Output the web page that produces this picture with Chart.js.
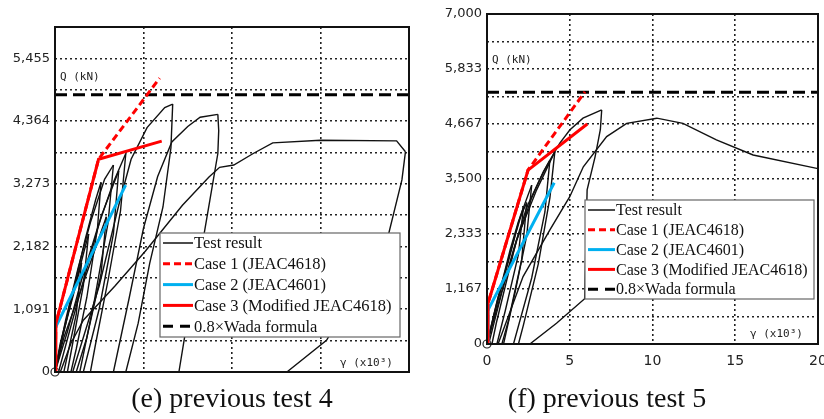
<!DOCTYPE html>
<html>
<head>
<meta charset="utf-8">
<script src="https://cdn.jsdelivr.net/npm/chart.js@4.4.0/dist/chart.umd.min.js"></script>
<style>
  body { margin: 0; background: #fff; width: 824px; height: 419px; overflow: hidden; position: relative; }
  .panel { position: absolute; top: 0; height: 385px; }
  #leftWrap { left: 0; width: 420px; }
  #rightWrap { left: 430px; width: 394px; }
  .caption { position: absolute; top: 382px; font-family: "Liberation Serif", serif; font-size: 28px; color: #111; text-align: center; }
</style>
</head>
<body>
<div class="panel" id="leftWrap"><canvas id="chartE" width="420" height="385"></canvas></div>
<div class="panel" id="rightWrap"><canvas id="chartF" width="394" height="385"></canvas></div>
<div class="caption" style="left:0;width:464px">(e) previous test 4</div>
<div class="caption" style="left:430px;width:354px">(f) previous test 5</div>
<script>
// ---- data: gamma (x10^3) vs Q (kN) ----
const legendLabels = ["Test result", "Case 1 (JEAC4618)", "Case 2 (JEAC4601)", "Case 3 (Modified JEAC4618)", "0.8\u00d7Wada formula"];

// (e) previous test 4
const e4YTicks = [0, 545, 1091, 1636, 2182, 2727, 3273, 3818, 4364, 4909, 5455, 6000];
const e4YLabels = ["0", "", "1,091", "", "2,182", "", "3,273", "", "4,364", "", "5,455", ""];
const e4Case1 = [[0, 0], [0.05, 840], [2.46, 3700], [5.91, 5110]];
const e4Case2 = [[0, 0], [0.03, 775], [3.99, 3250]];
const e4Case3 = [[0, 0], [0.05, 840], [2.46, 3700], [6.03, 4015]];
const e4Wada = 4820;
const e4Tests = [
    [[0, 0], [0.5, 700], [1.1, 1500], [1.7, 2300], [2.3, 3000], [2.6, 3300]],
    [[2.6, 3300], [2.4, 2500], [1.8, 1300], [1.2, 400], [0.9, 0]],
    [[0, 0], [0.7, 700], [1.5, 1600], [2.4, 2500], [3.3, 3300], [4.0, 3800]],
    [[4.0, 3800], [3.7, 2800], [3.0, 1600], [2.3, 500], [2.0, 0]],
    [[0.2, 0], [0.9, 800], [1.8, 1800], [2.6, 2700], [3.6, 3500]],
    [[3.6, 3500], [3.3, 2400], [2.5, 1100], [1.6, 0]],
    [[0, 0], [0.4, 600], [1.0, 1300], [1.5, 1900]],
    [[1.5, 1900], [1.2, 1000], [0.5, 0]],
    [[0, 0], [0.3, 500], [0.8, 1100], [1.3, 1700], [1.9, 2400]],
    [[1.9, 2400], [1.6, 1500], [1.0, 500], [0.7, 0]],
    [[0, 0], [0.6, 900], [1.3, 1800], [2.0, 2600], [2.8, 3350], [3.3, 3600]],
    [[3.3, 3600], [3.0, 2600], [2.2, 1200], [1.4, 0]],
    [[0, 0], [0.5, 600], [1.2, 1200], [2.0, 1900], [2.9, 2700]],
    [[2.9, 2700], [2.6, 1700], [1.8, 600], [1.2, 0]],
    [[1.0, 0], [2.5, 1500], [3.6, 2900], [4.3, 3700], [5.2, 4250], [6.2, 4600], [6.65, 4660]],
    [[6.65, 4660], [6.55, 3900], [6.1, 2870], [5.35, 1890], [4.7, 850], [4.0, 0]],
    [[3.3, 0], [4.2, 1300], [5.0, 2500], [5.8, 3400], [6.6, 4000], [7.5, 4270], [8.2, 4430], [9.2, 4480]],
    [[9.2, 4480], [9.25, 4200], [9.2, 3800], [8.75, 2990], [8.2, 2000], [7.6, 1130], [7.0, 0]],
    [[0.3, 0], [0.9, 500], [1.6, 900], [3.4, 1500], [5.1, 2100], [7.2, 2900], [8.7, 3390], [9.3, 3560],
     [10.1, 3600], [11.2, 3800], [12.3, 3985], [15.0, 4030], [19.3, 4020], [19.8, 3830]],
    [[19.8, 3830], [19.6, 3340], [18.8, 2340], [15.34, 550], [13.1, 0]]
];

// (f) previous test 5
const f5YTicks = [0, 583, 1167, 1750, 2333, 2917, 3500, 4083, 4667, 5250, 5833, 6417, 7000];
const f5YLabels = ["0", "", "1,167", "", "2,333", "", "3,500", "", "4,667", "", "5,833", "", "7,000"];
const f5Case1 = [[0, 0], [0.06, 860], [2.48, 3690], [5.92, 5350]];
const f5Case2 = [[0, 0], [0.06, 720], [4.06, 3420]];
const f5Case3 = [[0, 0], [0.06, 860], [2.48, 3690], [6.06, 4667]];
const f5Wada = 5340;
const f5Tests = [
    [[0, 0], [0.6, 900], [1.3, 1800], [2.0, 2700], [2.7, 3370]],
    [[2.7, 3370], [2.4, 2300], [1.7, 1100], [1.0, 0]],
    [[0.1, 0], [0.9, 1100], [1.8, 2200], [2.7, 3100], [3.4, 3650], [4.1, 4080]],
    [[4.1, 4080], [3.8, 3100], [3.1, 1700], [2.2, 400], [1.9, 0]],
    [[0, 0], [0.5, 700], [1.1, 1500], [1.7, 2300], [2.2, 2900]],
    [[2.2, 2900], [1.9, 1900], [1.1, 700], [0.6, 0]],
    [[0, 0], [0.4, 600], [0.9, 1300], [1.4, 2000], [1.9, 2600], [2.4, 3000]],
    [[2.4, 3000], [2.1, 1800], [1.3, 500], [0.9, 0]],
    [[0, 0], [0.8, 1000], [1.6, 2000], [2.4, 2900], [3.2, 3500], [3.8, 3900]],
    [[3.8, 3900], [3.5, 2800], [2.7, 1400], [1.6, 0]],
    [[0.3, 0], [0.56, 440], [1.78, 2200], [3.0, 3270], [4.1, 4080], [4.4, 4260], [5.0, 4540], [5.8, 4790], [6.93, 4964]],
    [[6.93, 4964], [6.85, 4550], [6.73, 4330], [6.53, 3970], [6.05, 3270], [5.9, 960], [4.2, 440], [2.59, 0]],
    [[0.67, 0], [2.18, 1430], [3.8, 2420], [5.0, 3125], [5.82, 3760], [7.23, 4400], [8.44, 4680], [10.26, 4790],
     [11.84, 4680], [13.86, 4330], [16.08, 4010], [20, 3720]]
];

const legendStyles = [
    { color: "#111", width: 1.5, dash: [] },
    { color: "#ff0000", width: 3, dash: [7, 4] },
    { color: "#00b0f0", width: 3, dash: [] },
    { color: "#ff0000", width: 3, dash: [] },
    { color: "#000", width: 3, dash: [10, 7] }
];

const toPts = arr => arr.map(([x, y]) => ({ x, y }));

// frame, axis captions and the boxed legend
const decorPlugin = {
    id: "decor",
    afterDatasetsDraw(chart, args, opts) {
        const { ctx, chartArea: a } = chart;
        ctx.save();
        ctx.setLineDash([]);
        ctx.strokeStyle = "#111";
        ctx.lineWidth = 2;
        ctx.strokeRect(a.left, a.top, a.right - a.left, a.bottom - a.top);

        ctx.fillStyle = "#222";
        ctx.font = '11px "DejaVu Sans Mono"';
        ctx.textBaseline = "middle";
        ctx.fillText("Q (kN)", a.left + opts.q[0], a.top + opts.q[1]);
        ctx.fillText("\u03b3 (x10\u00b3)", a.left + opts.g[0], a.top + opts.g[1]);

        const L = opts.legend;
        ctx.fillStyle = "#fff";
        ctx.fillRect(L.x, L.y, L.w, L.h);
        ctx.strokeStyle = "#666";
        ctx.lineWidth = 1.2;
        ctx.strokeRect(L.x, L.y, L.w, L.h);
        ctx.font = L.size + 'px "Liberation Serif"';
        legendLabels.forEach((t, i) => {
            const yy = L.y + L.first + i * L.row;
            const s = legendStyles[i];
            ctx.strokeStyle = s.color;
            ctx.lineWidth = s.width;
            ctx.setLineDash(s.dash);
            ctx.beginPath();
            ctx.moveTo(L.x + 3, yy);
            ctx.lineTo(L.x + 3 + L.sample, yy);
            ctx.stroke();
            ctx.fillStyle = "#111";
            ctx.fillText(t, L.x + 4 + L.sample, yy + 1);
        });
        ctx.restore();
    }
};

function makeChart(id, d) {
    const datasets = [
        { data: toPts(d.case3), borderColor: "#ff0000", borderWidth: 3 },
        { data: toPts(d.case2), borderColor: "#00b0f0", borderWidth: 3 },
        { data: toPts(d.case1), borderColor: "#ff0000", borderWidth: 3, borderDash: [7, 4] },
        { data: [{ x: 0, y: d.wada }, { x: 20, y: d.wada }], borderColor: "#000", borderWidth: 3, borderDash: [12, 6] },
        { data: [{ x: 0, y: 0 }], showLine: false, pointRadius: 4, pointBackgroundColor: "#fff",
          pointBorderColor: "#222", pointBorderWidth: 1.2, clip: false }
    ];
    d.tests.forEach(t => datasets.push({ data: toPts(t), borderColor: "#111", borderWidth: 1.4 }));
    datasets.forEach(ds => {
        ds.showLine = ds.showLine !== false;
        if (ds.pointRadius === undefined) ds.pointRadius = 0;
        ds.tension = 0;
    });

    return new Chart(document.getElementById(id), {
        type: "scatter",
        data: { datasets },
        options: {
            responsive: false,
            animation: false,
            events: [],
            layout: { padding: d.padding },
            plugins: { legend: { display: false }, tooltip: { enabled: false }, decor: d.decor },
            scales: {
                x: {
                    type: "linear", min: 0, max: 20,
                    afterFit: s => { s.height = d.xHeight; s.paddingLeft = 0; s.paddingRight = 0; },
                    grid: { color: "#222", lineWidth: 1.6, drawTicks: false },
                    border: { display: false, dash: [2, 3] },
                    ticks: { display: d.xLabels, stepSize: 5, padding: 9, color: "#222",
                             font: { family: "DejaVu Sans", size: 14 } }
                },
                y: {
                    type: "linear", min: 0, max: d.yTicks[d.yTicks.length - 1],
                    afterFit: s => { s.width = d.yWidth; s.paddingTop = 0; s.paddingBottom = 0; },
                    afterBuildTicks: s => { s.ticks = d.yTicks.map(v => ({ value: v })); },
                    grid: { color: "#222", lineWidth: 1.6, drawTicks: false },
                    border: { display: false, dash: [2, 3] },
                    ticks: { autoSkip: false, padding: 5, color: "#222",
                             font: { family: "DejaVu Sans", size: 13 },
                             callback: (v, i) => d.yLabels[i] }
                }
            }
        },
        plugins: [decorPlugin]
    });
}

makeChart("chartE", {
    case1: e4Case1, case2: e4Case2, case3: e4Case3, wada: e4Wada, tests: e4Tests,
    yTicks: e4YTicks, yLabels: e4YLabels, xLabels: false,
    padding: { top: 27, right: 11, left: 0, bottom: 0 }, xHeight: 13, yWidth: 55,
    decor: { q: [5, 50], g: [285, 336],
             legend: { x: 160, y: 233, w: 240, h: 104, first: 10, row: 20.8, sample: 30, size: 16.5 } }
});

makeChart("chartF", {
    case1: f5Case1, case2: f5Case2, case3: f5Case3, wada: f5Wada, tests: f5Tests,
    yTicks: f5YTicks, yLabels: f5YLabels, xLabels: true,
    padding: { top: 14, right: 6, left: 0, bottom: 0 }, xHeight: 41, yWidth: 57,
    decor: { q: [5, 46], g: [263, 320],
             legend: { x: 155, y: 200, w: 229, h: 99, first: 10, row: 19.8, sample: 27, size: 16 } }
});
</script>
</body>
</html>
